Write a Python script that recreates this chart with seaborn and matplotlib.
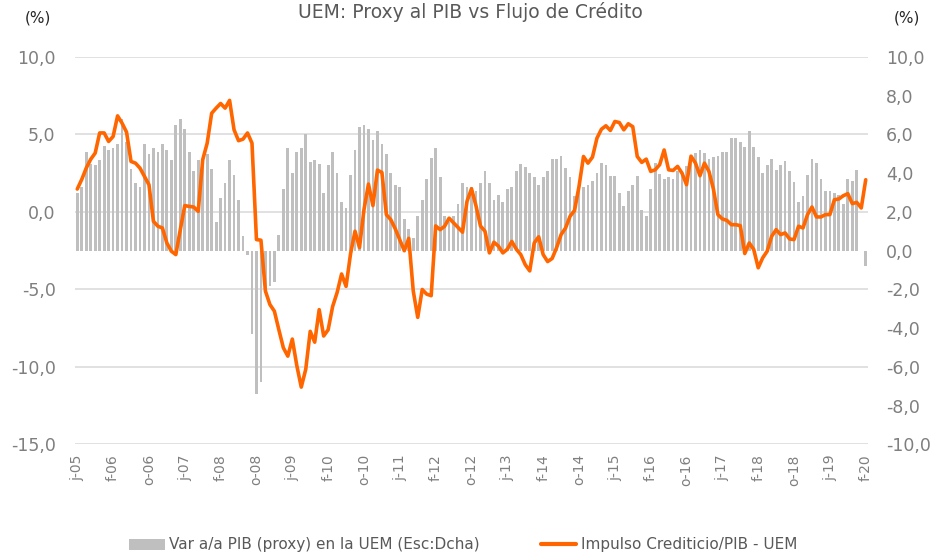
import numpy as np
import pandas as pd
import matplotlib
matplotlib.use("Agg")
import matplotlib.pyplot as plt
import seaborn as sns
from matplotlib.patches import Patch
from matplotlib.lines import Line2D

# ---- data (monthly, jun-2005 .. feb-2020) ----
gdp_yoy = [
    3.0, 3.3, 5.1, 4.5, 4.4, 4.7, 5.4, 5.2, 5.3, 5.5,
    6.8, 5.6, 4.2, 3.5, 3.3, 5.5, 5.0, 5.3, 5.1, 5.5,
    5.2, 4.7, 6.5, 6.8, 6.3, 5.1, 4.1, 4.7, 4.7, 5.0,
    4.2, 1.5, 2.7, 3.5, 4.7, 3.9, 2.6, 0.75, -0.2, -4.3,
    -7.4, -6.8, -2.2, -1.8, -1.6, 0.8, 3.2, 5.3, 4.0, 5.1,
    5.3, 6.0, 4.6, 4.7, 4.5, 3.0, 4.4, 5.1, 4.0, 2.5,
    2.2, 3.9, 5.2, 6.4, 6.5, 6.3, 5.7, 6.2, 5.5, 5.0,
    4.0, 3.4, 3.3, 1.64, 1.1, 0.66, 1.8, 2.6, 3.7, 4.8,
    5.3, 3.8, 1.8, 1.5, 1.8, 2.4, 3.5, 3.3, 3.3, 3.1,
    3.5, 4.1, 3.5, 2.6, 2.9, 2.5, 3.2, 3.3, 4.1, 4.5,
    4.3, 4.0, 3.8, 3.4, 3.8, 4.1, 4.73, 4.73, 4.9, 4.26,
    3.8, 2.8, 3.3, 3.3, 3.4, 3.6, 4.0, 4.55, 4.4, 3.87,
    3.87, 3.0, 2.3, 3.1, 3.4, 3.87, 2.1, 1.8, 3.2, 4.55,
    3.97, 3.7, 3.8, 3.7, 4.1, 4.0, 4.35, 4.95, 5.04, 5.2,
    5.04, 4.73, 4.83, 4.9, 5.12, 5.12, 5.8, 5.8, 5.6, 5.33,
    6.2, 5.33, 4.83, 4.0, 4.44, 4.73, 4.18, 4.44, 4.64, 4.1,
    3.53, 2.5, 2.8, 3.9, 4.73, 4.55, 3.7, 3.1, 3.1, 2.98,
    2.9, 2.43, 3.7, 3.6, 4.18, 0.0, -0.8,
]

credit_impulse = [
    1.48, 2.1, 2.83, 3.4, 3.8, 5.1, 5.1, 4.55, 4.87, 6.2,
    5.73, 5.15, 3.26, 3.15, 2.83, 2.3, 1.76, -0.6, -0.92, -1.03,
    -2.0, -2.53, -2.75, -1.14, 0.41, 0.36, 0.32, 0.04, 3.37, 4.44,
    6.37, 6.7, 7.0, 6.7, 7.2, 5.3, 4.6, 4.7, 5.1, 4.44,
    -1.78, -1.82, -5.1, -5.97, -6.4, -7.6, -8.76, -9.3, -8.2, -9.9,
    -11.3, -10.15, -7.7, -8.4, -6.3, -8.0, -7.6, -6.1, -5.2, -4.0,
    -4.8, -2.7, -1.24, -2.3, 0.15, 1.8, 0.41, 2.7, 2.55, -0.17,
    -0.5, -1.1, -1.8, -2.5, -1.7, -5.1, -6.8, -5.0, -5.3, -5.4,
    -0.9, -1.14, -0.92, -0.4, -0.7, -1.0, -1.3, 0.69, 1.5, 0.4,
    -0.9, -1.24, -2.64, -1.95, -2.2, -2.64, -2.4, -1.9, -2.4, -2.75,
    -3.4, -3.8, -2.0, -1.6, -2.75, -3.2, -3.0, -2.3, -1.46, -1.03,
    -0.28, 0.1, 1.65, 3.58, 3.15, 3.54, 4.76, 5.34, 5.56, 5.26,
    5.84, 5.77, 5.3, 5.69, 5.5, 3.58, 3.2, 3.41, 2.62, 2.72,
    3.05, 4.0, 2.72, 2.68, 2.94, 2.5, 1.76, 3.6, 3.15, 2.34,
    3.15, 2.62, 1.48, -0.17, -0.45, -0.54, -0.82, -0.82, -0.88, -2.68,
    -2.0, -2.42, -3.6, -2.96, -2.53, -1.57, -1.14, -1.46, -1.35, -1.74,
    -1.78, -0.92, -1.03, -0.17, 0.32, -0.32, -0.32, -0.17, -0.17, 0.79,
    0.84, 1.05, 1.18, 0.54, 0.62, 0.26, 2.08,
]

tick_labels = [
    "j-05", "f-06", "o-06", "j-07", "f-08", "o-08", "j-09", "f-10",
    "o-10", "j-11", "f-12", "o-12", "j-13", "f-14", "o-14", "j-15",
    "f-16", "o-16", "j-17", "f-18", "o-18", "j-19", "f-20",
]
tick_step = 8
left_ticks = [-15, -10, -5, 0, 5, 10]
right_ticks = [-10, -8, -6, -4, -2, 0, 2, 4, 6, 8, 10]

title = "UEM: Proxy al PIB vs Flujo de Crédito"
bar_label = "Var a/a PIB (proxy) en la UEM (Esc:Dcha)"
line_label = "Impulso Crediticio/PIB - UEM"

BAR_COLOR = "#BFBFBF"
LINE_COLOR = "#FF6600"
GRID_COLOR = "#D9D9D9"
TICK_COLOR = "#7F7F7F"

sns.set_theme(style="white")
plt.rcParams["font.family"] = ["DejaVu Sans"]

fig = plt.figure(figsize=(9.32, 5.57), dpi=100)
ax_bar = fig.add_axes([0.0805, 0.202, 0.8508, 0.6957])

n = len(gdp_yoy)
df = pd.DataFrame({"idx": np.arange(n), "gdp": gdp_yoy, "credit": credit_impulse})

sns.barplot(data=df, x="idx", y="gdp", color=BAR_COLOR, saturation=1,
            width=0.62, linewidth=0, edgecolor="none", ax=ax_bar, zorder=2)
ax_bar.set_ylim(-10, 10)
ax_bar.set_xlim(-0.5, n - 0.5)

# gridlines at the left-axis values (expressed on the bar axis scale)
lmin, lmax = left_ticks[0], left_ticks[-1]
rmin, rmax = right_ticks[0], right_ticks[-1]
for v in left_ticks:
    r = rmin + (v - lmin) * (rmax - rmin) / (lmax - lmin)
    ax_bar.axhline(r, color=GRID_COLOR, lw=1.1, zorder=0)

ax_line = ax_bar.twinx()
sns.lineplot(data=df, x="idx", y="credit", color=LINE_COLOR, lw=2.6,
             ax=ax_line, zorder=3)
ax_line.set_ylim(lmin, lmax)
ax_line.set_xlim(-0.5, n - 0.5)

def fmt(v):
    return f"{v:.1f}".replace(".", ",")

# bar axis -> right side ticks
ax_bar.yaxis.tick_right()
ax_bar.set_yticks(right_ticks)
ax_bar.set_yticklabels([fmt(v) for v in right_ticks])
ax_bar.set_ylabel("")
ax_bar.tick_params(axis="y", length=0, pad=13, labelsize=12.5, labelcolor=TICK_COLOR)

# line axis -> left side ticks
ax_line.yaxis.tick_left()
ax_line.set_yticks(left_ticks)
ax_line.set_yticklabels([fmt(v) for v in left_ticks])
ax_line.set_ylabel("")
ax_line.tick_params(axis="y", length=0, pad=14, labelsize=12.5, labelcolor=TICK_COLOR)

ax_bar.set_xticks(list(range(0, n, tick_step)))
ax_bar.set_xticklabels(tick_labels, rotation=90)
ax_bar.set_xlabel("")
ax_bar.tick_params(axis="x", length=0, pad=7, labelsize=10, labelcolor=TICK_COLOR)

for a in (ax_bar, ax_line):
    for s in a.spines.values():
        s.set_visible(False)
    a.grid(False)

fig.text(0.5043, 1 - 2 / 557, title, ha="center", va="top",
         fontsize=13.5, color="#595959")
fig.text(38 / 932, 1 - 18 / 557, "(%)", ha="center", va="center",
         fontsize=11, color="#262626")
fig.text(907 / 932, 1 - 18 / 557, "(%)", ha="center", va="center",
         fontsize=11, color="#262626")

handles = [Patch(facecolor=BAR_COLOR, edgecolor="none"),
           Line2D([], [], color=LINE_COLOR, lw=3)]
fig.legend(handles, [bar_label, line_label], loc="center",
           bbox_to_anchor=(0.497, 1 - 545 / 557), ncol=2, frameon=False,
           fontsize=11, handlelength=2.3, handleheight=0.7,
           columnspacing=4.0, handletextpad=0.3, labelcolor="#595959")

fig.savefig("out.png", dpi=100)
